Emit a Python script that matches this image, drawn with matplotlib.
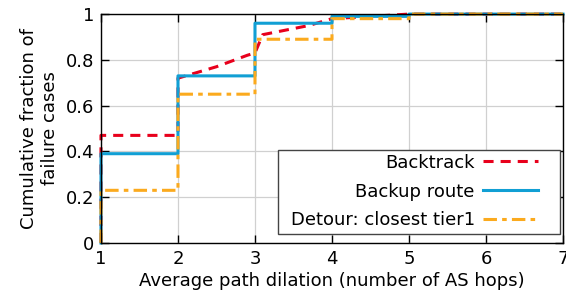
import numpy as np
import matplotlib
matplotlib.use('Agg')
import matplotlib.pyplot as plt
from matplotlib.patches import Rectangle

# Backtrack (CDF, partly continuous)
bt_x = [1, 1, 2, 2, 2.5, 2.9, 3, 3.1, 3.4, 3.7, 4, 4.5, 5, 7]
bt_y = [0, 0.47, 0.47, 0.72, 0.77, 0.82, 0.83, 0.91, 0.93, 0.95, 0.98, 0.99, 1.0, 1.0]

# Backup route (steps)
br_x = [1, 2, 3, 4, 5, 7]
br_y = [0.39, 0.73, 0.96, 0.99, 1.0, 1.0]

# Detour: closest tier1 (steps)
dt_x = [1, 2, 3, 4, 5, 7]
dt_y = [0.23, 0.65, 0.89, 0.98, 1.0, 1.0]

plt.rcParams['font.family'] = 'DejaVu Sans'
fig = plt.figure(figsize=(5.66, 3.06), dpi=100)
ax = fig.add_axes([0.1784, 0.206, 0.8163, 0.748])

ax.plot(bt_x, bt_y, color='#e8001c', lw=2.2, linestyle=(0, (3.3, 2.3)),
        label='Backtrack', clip_on=False, snap=False)
ax.step([1] + br_x, [0] + br_y, where='post', color='#119fd4', lw=2.2,
        label='Backup route', clip_on=False, snap=False)
ax.step([1] + dt_x, [0] + dt_y, where='post', color='#fbaa1e', lw=2.2,
        linestyle=(0, (4.4, 1.7, 1.5, 1.7)), label='Detour: closest tier1',
        clip_on=False, snap=False)

ax.set_xlim(1, 7)
ax.set_ylim(0, 1)
ax.set_xticks(range(1, 8))
ax.set_yticks([0, 0.2, 0.4, 0.6, 0.8, 1])
ax.set_yticklabels(['0', '0.2', '0.4', '0.6', '0.8', '1'])
ax.grid(True, color='#d0d0d0', lw=0.9)
ax.set_axisbelow(True)
ax.tick_params(direction='in', length=6, width=1, top=True, right=True,
               labelsize=13, pad=5)
for s in ax.spines.values():
    s.set_linewidth(1)

ax.set_xlabel('Average path dilation (number of AS hops)', fontsize=13, labelpad=3)
ax.set_ylabel('Cumulative fraction of\nfailure cases', fontsize=13, labelpad=5)

# legend box drawn separately so the padding can differ left/right
box = Rectangle((0.383, 0.039), 0.6105, 0.367, transform=ax.transAxes,
                facecolor='white', edgecolor='#444444', lw=1, zorder=4.9,
                clip_on=False)
ax.add_patch(box)
leg = ax.legend(loc='lower right', bbox_to_anchor=(0.956, 0.039),
                markerfirst=False, fontsize=13, handlelength=3.05,
                handletextpad=0.45, frameon=False, borderpad=0.26,
                borderaxespad=0, labelspacing=0.6)
leg.set_zorder(5)
for t in leg.get_texts():
    t.set_ha('right')
leg._legend_box.align = 'right'

fig.savefig('out.png', dpi=100)
